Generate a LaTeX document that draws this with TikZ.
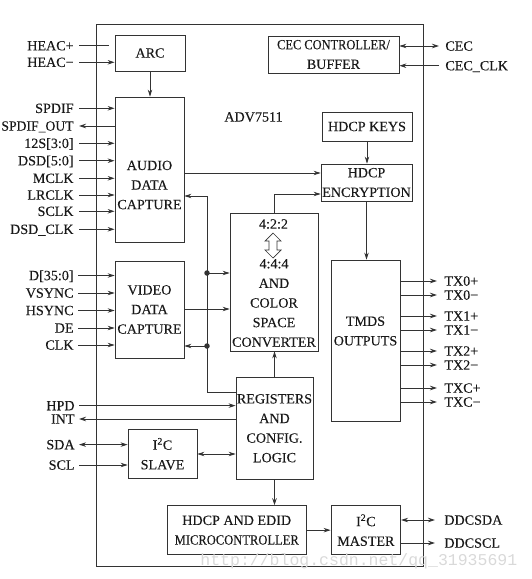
\documentclass[tikz,border=0pt]{standalone}
\usepackage{fontspec}
\setmainfont{Liberation Serif}[FakeBold=0.15]
\newfontfamily\wmfont{Liberation Mono}
\usetikzlibrary{arrows.meta}
\begin{document}
\begin{tikzpicture}[x=1pt,y=-1pt,
  line width=0.8pt, draw=black!80,
  txt/.style={font=\fontsize{14.1}{19.6}\selectfont, align=center, inner sep=0pt, text=black!90},
  box/.style={draw, rectangle, inner sep=0pt, txt},
  lbl/.style={font=\fontsize{14.1}{19.6}\selectfont, inner sep=0pt, text height=9.3pt, text depth=0pt, text=black!90},
  lft/.style={lbl, anchor=east},
  rgt/.style={lbl, anchor=west},
  arr/.style={-{Stealth[length=7pt,width=4.5pt]}},
  darr/.style={{Stealth[length=7pt,width=4.5pt]}-{Stealth[length=7pt,width=4.5pt]}},
  dot/.style={circle, fill=black!80, inner sep=0pt, minimum size=5.5pt}
]
\useasboundingbox (0,0) rectangle (531,579);

% chip outline
\node[draw, rectangle, inner sep=0pt, minimum width=327pt, minimum height=542pt] (chip) at (259.5,295) {};
\node[txt] (adv) at (253.5,117) {ADV7511};

% blocks
\node[box, minimum width=70pt, minimum height=36pt] (arc) at (150,53) {ARC};
\node[box, minimum width=131pt, minimum height=37pt] (cec) at (333.5,54.5) {\scalebox{0.88}[1]{CEC CONTROLLER/}\\BUFFER};
\node[box, minimum width=69pt, minimum height=145pt] (audio) at (149.5,169.5) {};
\node[txt] (audiot) at (149.5,185) {AUDIO\\DATA\\CAPTURE};
\node[box, minimum width=90pt, minimum height=29pt] (keys) at (367,126.5) {HDCP KEYS};
\node[box, minimum width=91pt, minimum height=37pt] (enc) at (366.5,182.5) {HDCP\\ENCRYPTION};
\node[box, minimum width=88pt, minimum height=138pt] (conv) at (274,282) {};
\node[txt] (convt1) at (273.5,224) {4:2:2};
\node[txt] (convt2) at (274,303) {4:4:4\\AND\\COLOR\\SPACE\\CONVERTER};
\node[box, minimum width=69pt, minimum height=97pt] (video) at (149.5,309.5) {VIDEO\\DATA\\CAPTURE};
\node[box, minimum width=69pt, minimum height=161pt] (tmds) at (365.5,340.5) {};
\node[txt] (tmdst) at (365.5,331) {TMDS\\OUTPUTS};
\node[box, minimum width=77pt, minimum height=102.5pt] (regs) at (274.5,428.25) {REGISTERS\\AND\\CONFIG.\\LOGIC};
\node[box, minimum width=69pt, minimum height=49.5pt] (slave) at (162.5,453.75) {I\textsuperscript{2}C\\SLAVE};
\node[box, minimum width=138.5pt, minimum height=49pt] (edid) at (236.75,530.15) {HDCP AND EDID\\\scalebox{0.89}[1]{MICROCONTROLLER}};
\node[box, minimum width=69.7pt, minimum height=49pt] (master) at (365.85,530.15) {I\textsuperscript{2}C\\MASTER};

% hollow double arrow 4:2:2 <-> 4:4:4
\draw[line width=0.7pt, fill=white] (273,233) -- (281,241) -- (277,241) -- (277,250) -- (281,250) -- (273,258)
  -- (265,250) -- (269,250) -- (269,241) -- (265,241) -- cycle;

% left labels
\node[lft] (heacp) at (74,45.7) {HEAC+};
\node[lft] (heacm) at (74,62.3) {HEAC−};
\node[lft] (spdif) at (74,108.3) {SPDIF};
\node[lft] (spdifo) at (74,126) {\scalebox{0.97}[1]{SPDIF\_OUT}};
\node[lft] (i2s) at (74,143.3) {12S[3:0]};
\node[lft] (dsd) at (74,160.7) {DSD[5:0]};
\node[lft] (mclk) at (74,178.3) {MCLK};
\node[lft] (lrclk) at (74,195) {LRCLK};
\node[lft] (sclk) at (74,211.3) {SCLK};
\node[lft] (dsdclk) at (74,229.3) {DSD\_CLK};
\node[lft] (dd) at (74,275.5) {D[35:0]};
\node[lft] (vsync) at (74,293) {VSYNC};
\node[lft] (hsync) at (74,310.5) {HSYNC};
\node[lft] (de) at (74,328) {DE};
\node[lft] (clk) at (74,345) {CLK};
\node[lft] (hpd) at (75,405.6) {HPD};
\node[lft] (int) at (75,419) {INT};
\node[lft] (sda) at (75,444.6) {SDA};
\node[lft] (scl) at (75,465) {SCL};

% right labels
\node[rgt] (cecl) at (445,46) {CEC};
\node[rgt] (cecclk) at (445,65.7) {CEC\_CLK};
\node[rgt] (tx0p) at (444,281) {TX0+};
\node[rgt] (tx0m) at (444,295) {TX0−};
\node[rgt] (tx1p) at (444,316) {TX1+};
\node[rgt] (tx1m) at (444,330) {TX1−};
\node[rgt] (tx2p) at (444,351) {TX2+};
\node[rgt] (tx2m) at (444,365) {TX2−};
\node[rgt] (txcp) at (444,388) {TXC+};
\node[rgt] (txcm) at (444,402) {TXC−};
\node[rgt] (ddcsda) at (444,520) {DDCSDA};
\node[rgt] (ddcscl) at (444,543) {DDCSCL};

% left connectors
\draw[shorten >=6pt] ([xshift=5pt]heacp.east) -- (heacp.east -| arc.west);
\draw[arr] ([xshift=5pt]heacm.east) -- (heacm.east -| arc.west);
\draw[arr] ([xshift=5pt]spdif.east) -- (spdif.east -| audio.west);
\draw[arr] (spdifo.east -| audio.west) -- ([xshift=5pt]spdifo.east);
\foreach \n in {i2s,dsd,mclk,lrclk,sclk,dsdclk}
  \draw[arr] ([xshift=5pt]\n.east) -- (\n.east -| audio.west);
\foreach \n in {dd,vsync,hsync,de,clk}
  \draw[arr] ([xshift=4pt]\n.east) -- (\n.east -| video.west);
\draw[arr] ([xshift=4pt]hpd.east) -- (hpd.east -| regs.west);
\draw[arr] (int.east -| regs.west) -- ([xshift=4pt]int.east);
\draw[darr] ([xshift=4pt]sda.east) -- (sda.east -| slave.west);
\draw[arr] ([xshift=4pt]scl.east) -- (scl.east -| slave.west);

% right connectors
\draw[darr] (cecl.west -| cec.east) -- ([xshift=-6pt]cecl.west);
\draw[arr] ([xshift=-6pt]cecclk.west) -- (cecclk.west -| cec.east);
\foreach \n in {tx0p,tx0m,tx1p,tx1m,tx2p,tx2m,txcp,txcm}
  \draw[arr] (\n.west -| tmds.east) -- ([xshift=-7pt]\n.west);
\draw[darr] (ddcsda.west -| master.east) -- ([xshift=-9pt]ddcsda.west);
\draw[arr] (ddcscl.west -| master.east) -- ([xshift=-9pt]ddcscl.west);

% internal connectors
\draw[arr] (arc.south) -- (arc.south |- audio.north);
\draw[arr] (keys.south) -- (keys.south |- enc.north);
\draw[arr] (enc.south) -- (enc.south |- tmds.north);
\draw[arr] (audio.east |- 0,173) -- (enc.west |- 0,173);
\draw[arr] (conv.north) -- (conv.north |- 0,194) -- (enc.west |- 0,194);
\draw[arr] (video.east |- 0,309) -- (conv.west |- 0,309);
\draw[arr] (regs.north) -- (regs.north |- conv.south);
\draw[arr] (regs.south) -- (regs.south |- edid.north);
\draw[darr] (slave.east |- 0,454) -- (regs.west |- 0,454);
\draw[arr] (edid.east) -- (master.west);

% register bus
\coordinate (bustop) at (207,196);
\coordinate (busbot) at (207,392);
\node[dot] (j1) at (207,273) {};
\node[dot] (j2) at (207,346) {};
\draw (regs.west |- busbot) -- (busbot) -- (bustop);
\draw[arr] (bustop) -- (bustop -| audio.east);
\draw[arr] (j1.center) -- (j1 -| conv.west);
\draw[arr] (j2.center) -- (j2 -| video.east);

% watermark
\node[inner sep=0pt, anchor=west, font=\wmfont\fontsize{16.5}{18}\selectfont, text=black!15] (wm) at (200,561) {http://blog.csdn.net/qq\_31935691};
\end{tikzpicture}
\end{document}
